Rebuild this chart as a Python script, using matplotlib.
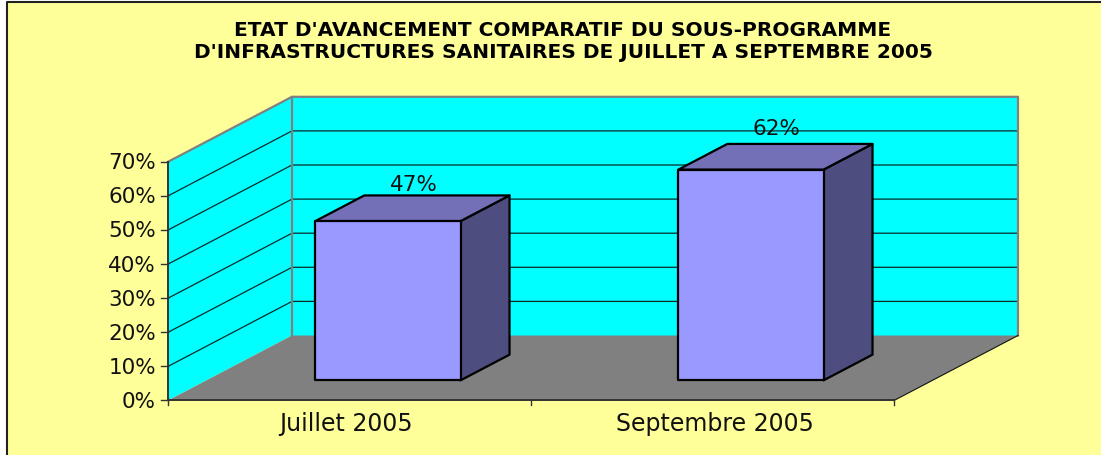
import matplotlib
matplotlib.use('Agg')
import matplotlib.pyplot as plt
from matplotlib.patches import Polygon, Rectangle

# data
categories = ['Juillet 2005', 'Septembre 2005']
values = [46.7, 61.8]
value_labels = ['47%', '62%']
ticks = [0, 10, 20, 30, 40, 50, 60, 70]
tick_labels = ['0%', '10%', '20%', '30%', '40%', '50%', '60%', '70%']
title = ("ETAT D'AVANCEMENT COMPARATIF DU SOUS-PROGRAMME\n"
         "D'INFRASTRUCTURES SANITAIRES DE JUILLET A SEPTEMBRE 2005")

# the old 3D look, all in pixels of the picture
x0, y0 = 168, 401.5
cat_w = 363.0
per_pct = 3.41
dx, dy = 124, 65
d_front, d_back = 0.31, 0.705
bar_w = 0.4
label_gap = [11, 16]
cat_shift = [-3.5, 2]

bg = '#FFFF99'
wall = '#00FFFF'
floor = '#808080'

def proj(x, v, d):
    return (x0 + x*cat_w + dx*d, y0 - v*per_pct - dy*d)

fig = plt.figure(figsize=(11.01, 4.56), dpi=100)
ax = fig.add_axes([0, 0, 1, 1])
ax.set_xlim(0, 1101)
ax.set_ylim(456, 0)
ax.axis('off')

# background and frame
ax.add_patch(Rectangle((7, 3), 1094, 453, fc=bg, ec='none', zorder=0))
ax.plot([7, 7, 1101], [456, 3, 3], color='#222222', lw=1.5, zorder=1)

top = ticks[-1]
n = len(categories)

# walls and floor
ax.add_patch(Polygon([proj(0, 0, 1), proj(n, 0, 1), proj(n, top, 1), proj(0, top, 1)], fc=wall, ec='none', zorder=1))
ax.add_patch(Polygon([proj(0, 0, 0), proj(0, 0, 1), proj(0, top, 1), proj(0, top, 0)], fc=wall, ec='none', zorder=1))
ax.add_patch(Polygon([proj(0, 0, 0), proj(n, 0, 0), proj(n, 0, 1), proj(0, 0, 1)], fc=floor, ec='none', zorder=1))

# gridlines on the two walls
for t in ticks[1:-1]:
    pts = [proj(0, t, 0), proj(0, t, 1), proj(n, t, 1)]
    ax.plot([p[0] for p in pts], [p[1] for p in pts], color='#0A2A2A', lw=0.9, zorder=2)

# grey edge of the walls
pts = [proj(0, top, 0), proj(0, top, 1), proj(n, top, 1), proj(n, 0, 1)]
ax.plot([p[0] for p in pts], [p[1] for p in pts], color='#808080', lw=1.6, zorder=2)
pts = [proj(0, 0, 1), proj(0, top, 1)]
ax.plot([p[0] for p in pts], [p[1] for p in pts], color='#808080', lw=1.6, zorder=2)
pts = [proj(n, 0, 0), proj(n, 0, 1)]
ax.plot([p[0] for p in pts], [p[1] for p in pts], color='#111111', lw=0.8, zorder=2)

# axes lines and ticks
pts = [proj(0, top, 0), proj(0, 0, 0), proj(n, 0, 0)]
ax.plot([p[0] for p in pts], [p[1] for p in pts], color='#333333', lw=1.4, zorder=3)
for t, lab in zip(ticks, tick_labels):
    x, y = proj(0, t, 0)
    ax.plot([x-7, x], [y, y], color='#333333', lw=1, zorder=3)
    ax.text(x-12, y+0.5, lab, ha='right', va='center', fontsize=15.5, family='DejaVu Sans', color='#111111')
for i in range(n+1):
    x, y = proj(i, 0, 0)
    ax.plot([x, x], [y, y+5], color='#333333', lw=1, zorder=3)

for i, cat in enumerate(categories):
    x, y = proj(i+0.5, 0, 0)
    ax.text(x+cat_shift[i], y+23, cat, ha='center', va='center', fontsize=17, family='DejaVu Sans', color='#111111', zorder=6)

# bars
for i, v in enumerate(values):
    l = i + 0.5 - bar_w/2
    r = i + 0.5 + bar_w/2
    front = [proj(l, 0, d_front), proj(r, 0, d_front), proj(r, v, d_front), proj(l, v, d_front)]
    side = [proj(r, 0, d_front), proj(r, 0, d_back), proj(r, v, d_back), proj(r, v, d_front)]
    roof = [proj(l, v, d_front), proj(r, v, d_front), proj(r, v, d_back), proj(l, v, d_back)]
    ax.add_patch(Polygon(side, fc='#4D4D80', ec='black', lw=1.6, zorder=4, joinstyle='round'))
    ax.add_patch(Polygon(roof, fc='#7370B8', ec='black', lw=1.6, zorder=4, joinstyle='round'))
    ax.add_patch(Polygon(front, fc='#9999FF', ec='black', lw=1.6, zorder=5, joinstyle='round'))
    x, _ = proj(i+0.5, v, (d_front+d_back)/2)
    _, y = proj(i+0.5, v, d_back)
    ax.text(x+1, y-label_gap[i], value_labels[i], ha='center', va='center', fontsize=15.5, family='DejaVu Sans', color='#111111', zorder=6)

ax.text(563, 41.5, title, ha='center', va='center', fontsize=14.5, fontweight='bold',
        family='DejaVu Sans', color='black', linespacing=1.2, zorder=6)

fig.savefig('out.png', dpi=100, facecolor='white')
